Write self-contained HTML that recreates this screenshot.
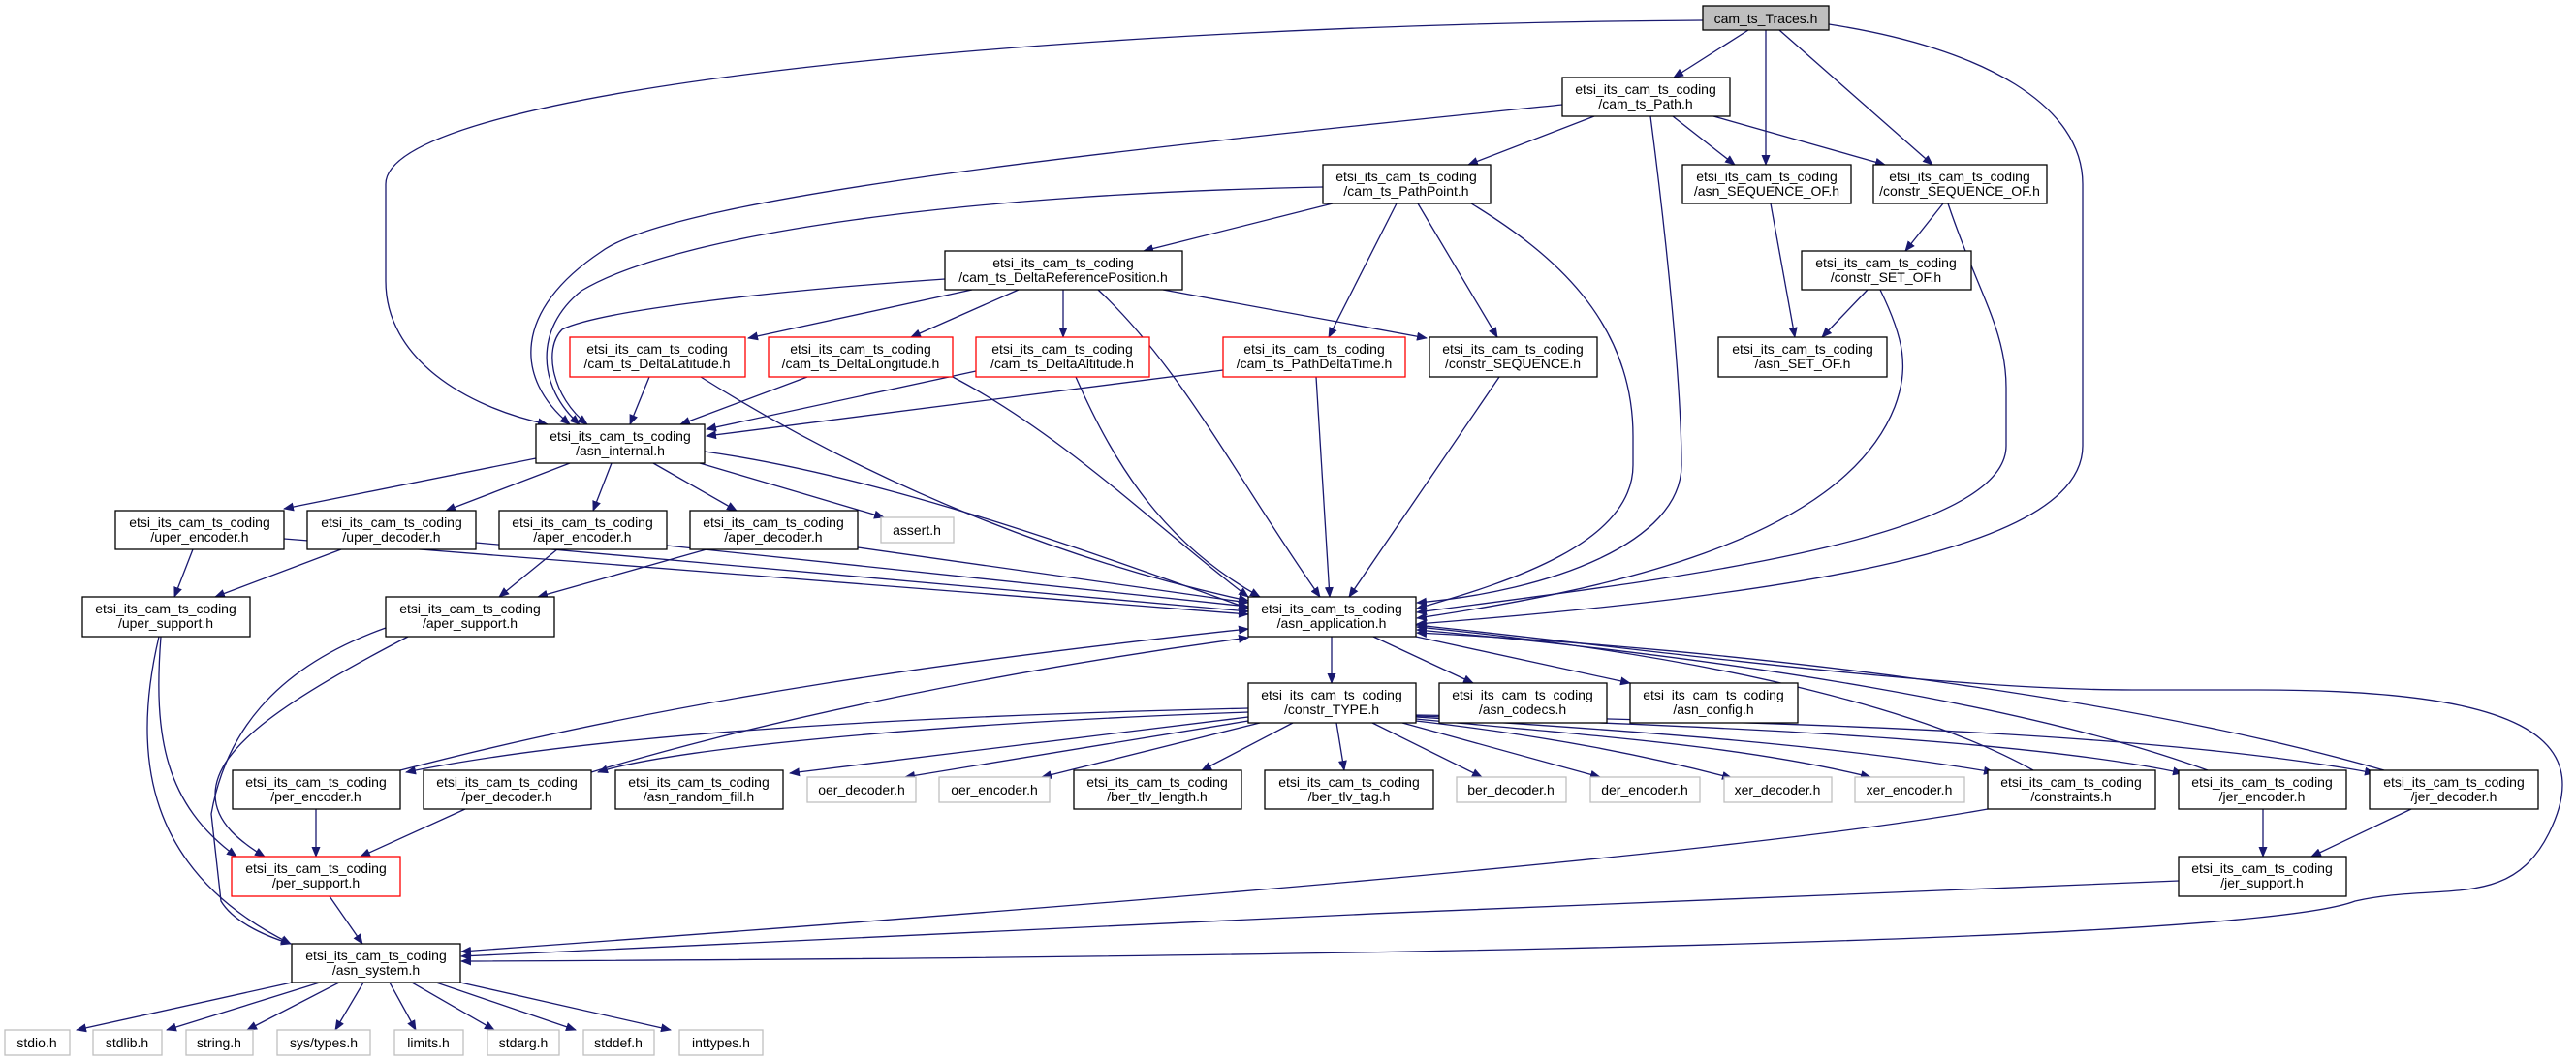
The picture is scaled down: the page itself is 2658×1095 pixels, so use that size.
<!DOCTYPE html>
<html><head><meta charset="utf-8"><style>
html,body{margin:0;padding:0;background:#fff;}
svg{display:block;}
text{font-family:"Liberation Sans","DejaVu Sans",sans-serif;font-size:14px;fill:#000;text-anchor:middle;}
.n{fill:#fff;stroke:#000;stroke-width:1.3;}
.r{fill:#fff;stroke:#ff0000;stroke-width:1.3;}
.g{fill:#fff;stroke:#bfbfbf;stroke-width:1.3;}
.e{fill:none;stroke:#191970;stroke-width:1.3;marker-end:url(#a);}
</style></head><body>
<svg width="2658" height="1095" viewBox="0 0 2658 1095" xmlns="http://www.w3.org/2000/svg">
<defs><marker id="a" markerWidth="11" markerHeight="9" refX="10" refY="4.5" orient="auto" markerUnits="userSpaceOnUse"><path d="M0,0L11,4.5L0,9z" fill="#191970"/></marker></defs>
<g>
<!-- edges -->
<path class="e" d="M1804,31L1727,80"/>
<path class="e" d="M1822,31L1822,170"/>
<path class="e" d="M1836,31L1994,170"/>
<path class="e" d="M1757,21C1100,25 398,90 398,190L398,290C398,370 480,420 565,438"/>
<path class="e" d="M1887,25C2050,50 2149,110 2149,190L2149,460C2149,560 1900,610 1462,644"/>
<path class="e" d="M1645,120L1515,170"/>
<path class="e" d="M1726,120L1790,170"/>
<path class="e" d="M1768,120L1945,170"/>
<path class="e" d="M1612,108C1200,150 700,200 620,260C530,320 530,390 588,438"/>
<path class="e" d="M1703,120C1720,250 1735,400 1735,480C1735,560 1600,610 1462,622"/>
<path class="e" d="M1375,210L1180,259"/>
<path class="e" d="M1441,210L1371,348"/>
<path class="e" d="M1463,210L1545,348"/>
<path class="e" d="M1365,193C1000,200 700,240 600,300C550,340 555,400 598,438"/>
<path class="e" d="M1518,210C1600,260 1685,330 1685,450L1685,480C1685,560 1560,600 1462,628"/>
<path class="e" d="M1003,299L772,349"/>
<path class="e" d="M1051,299L940,348"/>
<path class="e" d="M1097,299L1097,348"/>
<path class="e" d="M1200,299L1472,349"/>
<path class="e" d="M975,288C800,300 620,320 580,340C560,360 570,410 606,438"/>
<path class="e" d="M1133,299C1220,380 1280,500 1362,616"/>
<path class="e" d="M1827,210L1852,348"/>
<path class="e" d="M2005,210L1966,259"/>
<path class="e" d="M2010,210C2040,300 2070,340 2070,400L2070,460C2070,560 1700,600 1462,632"/>
<path class="e" d="M1927,299L1880,348"/>
<path class="e" d="M1940,299C1965,350 1970,380 1955,420C1900,560 1650,610 1462,638"/>
<path class="e" d="M670,389L650,438"/>
<path class="e" d="M723,389C900,500 1100,580 1288,620"/>
<path class="e" d="M833,389L702,438"/>
<path class="e" d="M983,389C1100,450 1200,550 1288,616"/>
<path class="e" d="M1007,383L729,443"/>
<path class="e" d="M1110,389C1150,480 1200,560 1300,616"/>
<path class="e" d="M1262,382L729,450"/>
<path class="e" d="M1358,389L1372,616"/>
<path class="e" d="M1547,389L1392,616"/>
<path class="e" d="M553,473L293,525"/>
<path class="e" d="M588,478L460,527"/>
<path class="e" d="M631,478L612,527"/>
<path class="e" d="M674,478L760,527"/>
<path class="e" d="M722,478L912,534"/>
<path class="e" d="M727,466C900,490 1100,560 1288,628"/>
<path class="e" d="M199,567L180,616"/>
<path class="e" d="M293,556L1288,634"/>
<path class="e" d="M352,567L222,616"/>
<path class="e" d="M491,560L1288,631"/>
<path class="e" d="M575,567L515,616"/>
<path class="e" d="M688,563L1288,626"/>
<path class="e" d="M729,567L555,616"/>
<path class="e" d="M885,565L1288,622"/>
<path class="e" d="M166,657C158,760 170,830 244,884"/>
<path class="e" d="M164,657C135,780 150,900 300,974"/>
<path class="e" d="M421,657C300,720 222,770 222,820C222,850 250,870 273,884"/>
<path class="e" d="M398,648C280,690 232,760 218,840L228,930C240,950 270,965 300,974"/>
<path class="e" d="M1374,657L1374,705"/>
<path class="e" d="M1417,657L1520,705"/>
<path class="e" d="M1461,657L1682,705"/>
<path class="e" d="M1461,645C1700,670 2000,712 2200,712L2330,712C2600,712 2680,760 2630,860C2590,940 2520,910 2430,930C2300,980 1000,990 476,992"/>
<path class="e" d="M1288,731C900,740 600,760 419,797"/>
<path class="e" d="M1288,735C1000,745 700,770 617,797"/>
<path class="e" d="M1288,740L815,798"/>
<path class="e" d="M1288,744L934,802"/>
<path class="e" d="M1300,746L1075,802"/>
<path class="e" d="M1334,746L1240,795"/>
<path class="e" d="M1379,746L1387,795"/>
<path class="e" d="M1416,746L1529,802"/>
<path class="e" d="M1447,746L1651,802"/>
<path class="e" d="M1461,744C1600,760 1700,780 1787,803"/>
<path class="e" d="M1461,742C1650,760 1800,770 1930,802"/>
<path class="e" d="M1461,740C1700,755 1900,770 2057,797"/>
<path class="e" d="M1461,739C1800,750 2100,765 2252,798"/>
<path class="e" d="M1461,738C1900,745 2250,760 2450,798"/>
<path class="e" d="M413,795C700,720 1000,680 1288,649"/>
<path class="e" d="M610,797C800,740 1050,690 1288,658"/>
<path class="e" d="M2098,795C2000,740 1800,680 1462,647"/>
<path class="e" d="M2278,795C2100,730 1800,680 1462,650"/>
<path class="e" d="M2460,795C2200,720 1800,670 1462,653"/>
<path class="e" d="M326,835L326,884"/>
<path class="e" d="M480,835L372,884"/>
<path class="e" d="M340,925L374,974"/>
<path class="e" d="M2051,835C1800,880 1200,930 476,982"/>
<path class="e" d="M2248,909C1700,930 1000,960 476,987"/>
<path class="e" d="M2335,835L2335,884"/>
<path class="e" d="M2488,835L2385,884"/>
<path class="e" d="M301,1014L79,1063"/>
<path class="e" d="M330,1014L172,1063"/>
<path class="e" d="M350,1014L255,1063"/>
<path class="e" d="M375,1014L346,1063"/>
<path class="e" d="M402,1014L429,1063"/>
<path class="e" d="M425,1014L510,1063"/>
<path class="e" d="M450,1014L594,1063"/>
<path class="e" d="M475,1014L692,1063"/>
</g>
<g>
<!-- nodes -->
<rect x="1757" y="6" width="130" height="25" fill="#bfbfbf" stroke="#000" stroke-width="1.3"/><text x="1822" y="24">cam_ts_Traces.h</text>

<rect class="n" x="1612" y="80" width="173" height="40"/><text x="1698" y="97">etsi_its_cam_ts_coding</text><text x="1698" y="112">/cam_ts_Path.h</text>
<rect class="n" x="1736" y="170" width="174" height="40"/><text x="1823" y="187">etsi_its_cam_ts_coding</text><text x="1823" y="202">/asn_SEQUENCE_OF.h</text>
<rect class="n" x="1933" y="170" width="179" height="40"/><text x="2022" y="187">etsi_its_cam_ts_coding</text><text x="2022" y="202">/constr_SEQUENCE_OF.h</text>
<rect class="n" x="1365" y="170" width="173" height="40"/><text x="1451" y="187">etsi_its_cam_ts_coding</text><text x="1451" y="202">/cam_ts_PathPoint.h</text>
<rect class="n" x="975" y="259" width="245" height="40"/><text x="1097" y="276">etsi_its_cam_ts_coding</text><text x="1097" y="291">/cam_ts_DeltaReferencePosition.h</text>
<rect class="n" x="1859" y="259" width="175" height="40"/><text x="1946" y="276">etsi_its_cam_ts_coding</text><text x="1946" y="291">/constr_SET_OF.h</text>
<rect class="n" x="1773" y="348" width="174" height="41"/><text x="1860" y="365">etsi_its_cam_ts_coding</text><text x="1860" y="380">/asn_SET_OF.h</text>
<rect class="r" x="588" y="348" width="181" height="41"/><text x="678" y="365">etsi_its_cam_ts_coding</text><text x="678" y="380">/cam_ts_DeltaLatitude.h</text>
<rect class="r" x="793" y="348" width="190" height="41"/><text x="888" y="365">etsi_its_cam_ts_coding</text><text x="888" y="380">/cam_ts_DeltaLongitude.h</text>
<rect class="r" x="1007" y="348" width="179" height="41"/><text x="1096" y="365">etsi_its_cam_ts_coding</text><text x="1096" y="380">/cam_ts_DeltaAltitude.h</text>
<rect class="r" x="1262" y="348" width="188" height="41"/><text x="1356" y="365">etsi_its_cam_ts_coding</text><text x="1356" y="380">/cam_ts_PathDeltaTime.h</text>
<rect class="n" x="1475" y="348" width="173" height="41"/><text x="1561" y="365">etsi_its_cam_ts_coding</text><text x="1561" y="380">/constr_SEQUENCE.h</text>
<rect class="n" x="553" y="438" width="174" height="40"/><text x="640" y="455">etsi_its_cam_ts_coding</text><text x="640" y="470">/asn_internal.h</text>

<rect class="n" x="119" y="527" width="174" height="40"/><text x="206" y="544">etsi_its_cam_ts_coding</text><text x="206" y="559">/uper_encoder.h</text>
<rect class="n" x="317" y="527" width="174" height="40"/><text x="404" y="544">etsi_its_cam_ts_coding</text><text x="404" y="559">/uper_decoder.h</text>
<rect class="n" x="515" y="527" width="173" height="40"/><text x="601" y="544">etsi_its_cam_ts_coding</text><text x="601" y="559">/aper_encoder.h</text>
<rect class="n" x="712" y="527" width="173" height="40"/><text x="798" y="544">etsi_its_cam_ts_coding</text><text x="798" y="559">/aper_decoder.h</text>
<rect class="g" x="909" y="534" width="75" height="26"/><text x="946" y="552">assert.h</text>

<rect class="n" x="85" y="616" width="173" height="41"/><text x="171" y="633">etsi_its_cam_ts_coding</text><text x="171" y="648">/uper_support.h</text>
<rect class="n" x="398" y="616" width="174" height="41"/><text x="485" y="633">etsi_its_cam_ts_coding</text><text x="485" y="648">/aper_support.h</text>
<rect class="n" x="1288" y="616" width="173" height="41"/><text x="1374" y="633">etsi_its_cam_ts_coding</text><text x="1374" y="648">/asn_application.h</text>

<rect class="n" x="1288" y="705" width="173" height="41"/><text x="1374" y="722">etsi_its_cam_ts_coding</text><text x="1374" y="737">/constr_TYPE.h</text>
<rect class="n" x="1485" y="705" width="173" height="41"/><text x="1571" y="722">etsi_its_cam_ts_coding</text><text x="1571" y="737">/asn_codecs.h</text>
<rect class="n" x="1682" y="705" width="173" height="41"/><text x="1768" y="722">etsi_its_cam_ts_coding</text><text x="1768" y="737">/asn_config.h</text>

<rect class="n" x="240" y="795" width="173" height="40"/><text x="326" y="812">etsi_its_cam_ts_coding</text><text x="326" y="827">/per_encoder.h</text>
<rect class="n" x="437" y="795" width="173" height="40"/><text x="523" y="812">etsi_its_cam_ts_coding</text><text x="523" y="827">/per_decoder.h</text>
<rect class="n" x="635" y="795" width="173" height="40"/><text x="721" y="812">etsi_its_cam_ts_coding</text><text x="721" y="827">/asn_random_fill.h</text>
<rect class="g" x="833" y="802" width="112" height="26"/><text x="889" y="820">oer_decoder.h</text>
<rect class="g" x="969" y="802" width="114" height="26"/><text x="1026" y="820">oer_encoder.h</text>
<rect class="n" x="1108" y="795" width="173" height="40"/><text x="1194" y="812">etsi_its_cam_ts_coding</text><text x="1194" y="827">/ber_tlv_length.h</text>
<rect class="n" x="1305" y="795" width="174" height="40"/><text x="1392" y="812">etsi_its_cam_ts_coding</text><text x="1392" y="827">/ber_tlv_tag.h</text>
<rect class="g" x="1503" y="802" width="113" height="26"/><text x="1559" y="820">ber_decoder.h</text>
<rect class="g" x="1641" y="802" width="113" height="26"/><text x="1697" y="820">der_encoder.h</text>
<rect class="g" x="1779" y="802" width="111" height="26"/><text x="1834" y="820">xer_decoder.h</text>
<rect class="g" x="1914" y="802" width="113" height="26"/><text x="1970" y="820">xer_encoder.h</text>
<rect class="n" x="2051" y="795" width="173" height="40"/><text x="2137" y="812">etsi_its_cam_ts_coding</text><text x="2137" y="827">/constraints.h</text>
<rect class="n" x="2248" y="795" width="173" height="40"/><text x="2334" y="812">etsi_its_cam_ts_coding</text><text x="2334" y="827">/jer_encoder.h</text>
<rect class="n" x="2445" y="795" width="174" height="40"/><text x="2532" y="812">etsi_its_cam_ts_coding</text><text x="2532" y="827">/jer_decoder.h</text>

<rect class="r" x="239" y="884" width="174" height="41"/><text x="326" y="901">etsi_its_cam_ts_coding</text><text x="326" y="916">/per_support.h</text>
<rect class="n" x="2248" y="884" width="173" height="41"/><text x="2334" y="901">etsi_its_cam_ts_coding</text><text x="2334" y="916">/jer_support.h</text>
<rect class="n" x="301" y="974" width="174" height="40"/><text x="388" y="991">etsi_its_cam_ts_coding</text><text x="388" y="1006">/asn_system.h</text>

<rect class="g" x="5" y="1063" width="67" height="26"/><text x="38" y="1081">stdio.h</text>
<rect class="g" x="96" y="1063" width="71" height="26"/><text x="131" y="1081">stdlib.h</text>
<rect class="g" x="192" y="1063" width="69" height="26"/><text x="226" y="1081">string.h</text>
<rect class="g" x="286" y="1063" width="96" height="26"/><text x="334" y="1081">sys/types.h</text>
<rect class="g" x="407" y="1063" width="71" height="26"/><text x="442" y="1081">limits.h</text>
<rect class="g" x="503" y="1063" width="74" height="26"/><text x="540" y="1081">stdarg.h</text>
<rect class="g" x="602" y="1063" width="73" height="26"/><text x="638" y="1081">stddef.h</text>
<rect class="g" x="701" y="1063" width="86" height="26"/><text x="744" y="1081">inttypes.h</text>
</g>
</svg>
</body></html>
